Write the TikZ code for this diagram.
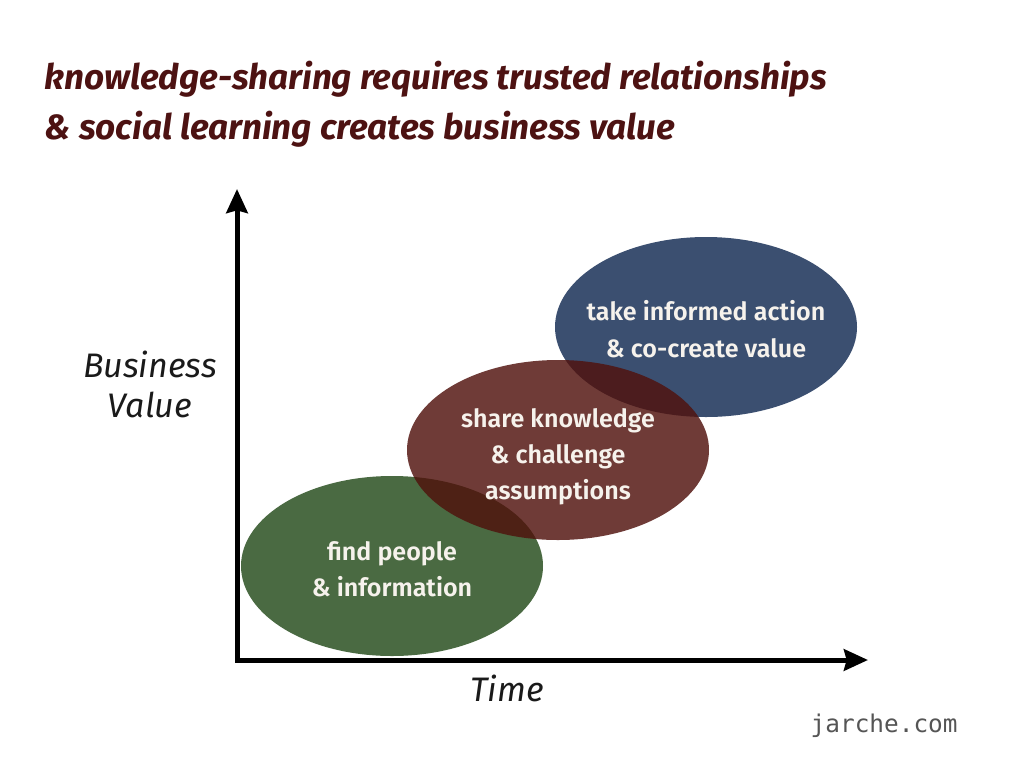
\documentclass[tikz,border=0pt]{standalone}
\usepackage{fontspec}
\setmainfont{Fira Sans}
\newfontfamily\firasemi{Fira Sans SemiBold}
\newfontfamily\monofont{DejaVu Sans Mono}
\usetikzlibrary{arrows.meta,shapes.geometric}
\definecolor{titlecol}{HTML}{4D1212}
\definecolor{greenfill}{HTML}{4A6A42}
\definecolor{bluefill}{HTML}{3B4F70}
\definecolor{redfill}{RGB}{80,17,12}
\definecolor{textwhite}{HTML}{F6F2EC}
\definecolor{axistext}{HTML}{1A1A1A}
\definecolor{urlgray}{HTML}{555555}
\tikzset{
  blob/.style={ellipse, inner sep=0pt, minimum width=226.5pt, minimum height=135pt, draw=none},
  blobtext/.style={anchor=base, text=textwhite, font=\firasemi\fontsize{18.8}{22}\selectfont},
  titletext/.style={anchor=base west, text=titlecol, font=\bfseries\itshape\fontsize{26.3}{30}\selectfont},
  axislabel/.style={anchor=base, text=axistext, font=\itshape\fontsize{25.5}{30}\selectfont},
  axisline/.style={line width=3.75pt, black, {Stealth[length=18pt,width=16pt,inset=2pt]}-{Stealth[length=18pt,width=16pt,inset=2pt]}}
}
\begin{document}
\begin{tikzpicture}[x=0.75pt,y=-0.75pt]
\useasboundingbox[fill=white] (0,0) rectangle (1024,768);
% title
\node[titletext] (t1) at (40,89) {knowledge-sharing requires trusted relationships};
\node[titletext] (t2) at (40,139) {\& social learning creates business value};
% ellipses
\node[blob, fill=greenfill] (find) at (392,566) {};
\node[blob, fill=bluefill] (act) at (706,327) {};
\node[blob, fill=redfill, fill opacity=0.82] (share) at (558,450) {};
% ellipse texts
\node[blobtext] (a1) at (706,320) {take informed action};
\node[blobtext] (a2) at (706,357) {\& co-create value};
\node[blobtext] (s1) at (558,427) {share knowledge};
\node[blobtext] (s2) at (558,463) {\& challenge};
\node[blobtext] (s3) at (558,499) {assumptions};
\node[blobtext] (f1) at (392,560) {find people};
\node[blobtext] (f2) at (392,596) {\& information};
% axes
\coordinate (ytop) at (237,189);
\coordinate (orig) at (237,660);
\coordinate (xend) at (868,660);
\draw[axisline] (ytop) -- (orig) -- (xend);
% axis labels
\node[axislabel] (bv1) at (150,377) {Business};
\node[axislabel] (bv2) at (150,417) {Value};
\node[axislabel] (time) at (507,701) {Time};
\node[anchor=base west, text=urlgray, font=\monofont\fontsize{18.3}{22}\selectfont] (url) at (806,732) {jarche.com};
\end{tikzpicture}
\end{document}
